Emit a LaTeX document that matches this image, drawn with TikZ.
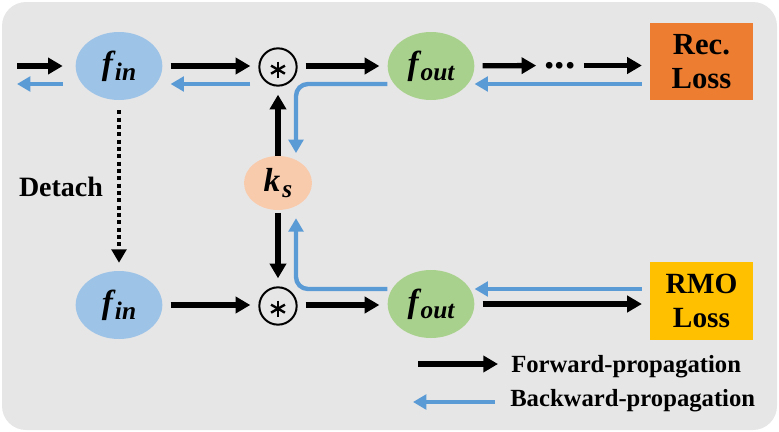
\documentclass[tikz,border=0pt]{standalone}
\usepackage{fontspec}
\setmainfont{Liberation Serif}
\usetikzlibrary{arrows.meta,shapes.geometric}
\definecolor{bgGray}{HTML}{E7E6E6}
\definecolor{inBlue}{HTML}{9DC3E6}
\definecolor{outGreen}{HTML}{A9D18E}
\definecolor{kOrange}{HTML}{F8CBAD}
\definecolor{recOrange}{HTML}{ED7D31}
\definecolor{rmoGold}{HTML}{FFC000}
\definecolor{backBlue}{HTML}{5B9BD5}
\newcommand\varSub[2]{{\bfseries\itshape #1\kern1.5pt\raisebox{-4.5pt}{\fontsize{19pt}{19pt}\selectfont #2}}}
\tikzset{
    feat/.style={ellipse, inner sep=0pt, minimum width=65pt, minimum height=51pt,
        font=\fontsize{25pt}{25pt}\selectfont},
    mult/.style={circle, draw, line width=1.5pt, minimum size=28pt, inner sep=0pt},
    lossbox/.style={rectangle, minimum width=77pt, minimum height=58pt, inner sep=0pt,
        align=center, font=\bfseries\fontsize{22pt}{26pt}\selectfont},
    fwd/.style={line width=4pt, -{Triangle[length=11pt,width=12pt]},
        shorten >=6pt, shorten <=6pt},
    bwd/.style={backBlue, line width=3.3pt, -{Triangle[length=10pt,width=11pt]},
        shorten >=6pt, shorten <=6pt},
    detach/.style={line width=3pt, dash pattern=on 3pt off 2.5pt,
        -{Triangle[length=10pt,width=11pt]}},
    legtext/.style={anchor=west, inner sep=0pt, font=\bfseries\fontsize{18.5pt}{18.5pt}\selectfont}
}
% six-armed star inside a product circle
\newcommand\starIn[1]{%
    \foreach \a in {90,30,150}
        \draw[line width=1.8pt] ([yshift=-2pt]#1.center) ++(\a:6pt) -- ++(\a+180:12pt);
}
\begin{document}
\begin{tikzpicture}[x=0.75pt, y=-0.75pt]
    \useasboundingbox (0,0) rectangle (779,432);
    \fill[bgGray, rounded corners=18pt] (2,2) rectangle (777,430);

    % upper branch
    \node[feat, fill=inBlue]    (fin1)  at (119,66)  {\varSub{f}{in}};
    \node[mult]                 (mul1)  at (278,67)  {};
    \node[feat, fill=outGreen]  (fout1) at (431,66)  {\varSub{f}{out}};
    \node[inner sep=0pt, font=\bfseries\fontsize{31pt}{31pt}\selectfont] (dots) at (560,65.5) {...};
    \node[lossbox, fill=recOrange, font=\bfseries\fontsize{23pt}{26pt}\selectfont] (rec) at (701.5,61.5) {Rec.\\Loss};

    % kernel
    \node[feat, fill=kOrange, minimum width=51pt, minimum height=40.5pt] (ks) at (278,183) {\varSub{k}{s}};

    % lower branch
    \node[feat, fill=inBlue]    (fin2)  at (119,305) {\varSub{f}{in}};
    \node[mult]                 (mul2)  at (278,306) {};
    \node[feat, fill=outGreen]  (fout2) at (431,304) {\varSub{f}{out}};
    \node[lossbox, fill=rmoGold] (rmo) at (701.5,301) {RMO\\Loss};

    \starIn{mul1}
    \starIn{mul2}

    \node[font=\bfseries\fontsize{21pt}{21pt}\selectfont] (detachlbl) at (61,187) {Detach};

    \coordinate (inL) at (17,66);
    \coordinate (b1) at ([yshift=-13.5pt]fout1.east);
    \coordinate (b2) at ([yshift=-13.5pt]fout1.west);
    \coordinate (b3) at ([yshift=11.25pt]fout2.east);
    \coordinate (b4) at ([yshift=11.25pt]fout2.west);

    % forward
    \draw[fwd, shorten <=0pt, shorten >=9.5pt] (inL) -- (fin1);
    \draw[fwd] (fin1) -- (fin1 -| mul1.west);
    \draw[fwd] (mul1.east |- fout1) -- (fout1);
    \draw[fwd] (fout1) -- (dots);
    \draw[fwd] (dots) -- (rec.west |- dots);
    \draw[fwd, shorten <=0pt] (ks) -- (mul1);
    \draw[fwd, shorten <=2pt] (ks) -- (mul2);
    \draw[fwd] (fin2) -- (fin2 -| mul2.west);
    \draw[fwd] (mul2.east |- fin2) -- (fin2 -| fout2.west);
    \draw[fwd] (fout2) -- (rmo.west |- fout2);
    \draw[detach, shorten <=7.5pt, shorten >=6pt] (fin1) -- (fin2);

    % backward
    \draw[bwd, shorten <=9.5pt, shorten >=0pt] ([yshift=-13.5pt]fin1.west) -- ([yshift=-13.5pt]inL);
    \draw[bwd] ([yshift=-13.5pt]fin1.east -| mul1.west) -- ([yshift=-13.5pt]fin1.east);
    \draw[bwd, shorten >=0pt] (b1 -| rec.west) -- (b1);
    \draw[bwd, rounded corners=9pt, shorten <=0pt, shorten >=2pt] (b2) -| ([xshift=13.5pt]ks.north);
    \draw[bwd, rounded corners=9pt, shorten <=0pt] (b4) -| ([xshift=13.5pt]ks.south);
    \draw[bwd, shorten >=0pt] (b3 -| rmo.west) -- (b3);

    % legend
    \coordinate (lf1) at (418,364);
    \coordinate (lf2) at (498,364);
    \coordinate (lb1) at (495,402);
    \coordinate (lb2) at (413,402);
    \draw[fwd, shorten <=0pt, shorten >=0pt] (lf1) -- (lf2);
    \draw[bwd, shorten <=0pt, shorten >=0pt] (lb1) -- (lb2);
    \node[legtext] (legfwd) at (511,367) {Forward-propagation};
    \node[legtext] (legbwd) at (510,401) {Backward-propagation};
\end{tikzpicture}
\end{document}
